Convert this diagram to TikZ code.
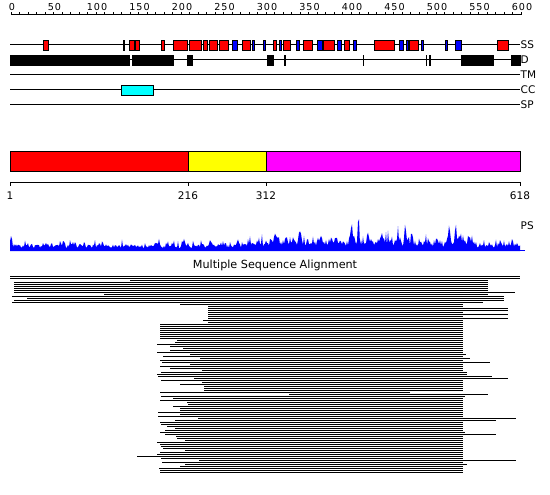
\documentclass[tikz,border=0pt]{standalone}
\usepackage{fontspec}
\setmainfont{DejaVu Sans}
\definecolor{ssred}{RGB}{255,0,0}
\definecolor{ssblue}{RGB}{0,0,255}
\definecolor{cccyan}{RGB}{0,255,255}
\definecolor{dyellow}{RGB}{255,255,0}
\definecolor{dmag}{RGB}{255,0,255}
\pgfmathdeclarefunction{pk}{4}{\pgfmathparse{#3*max(0,1-abs(#1-#2)/#4)}}
\begin{document}
\begin{tikzpicture}[x=1pt,y=-1pt,
  rulenum/.style={font=\fontsize{9.6}{10}\selectfont\addfontfeature{LetterSpace=10}, inner sep=0pt},
  tracklab/.style={font=\fontsize{10.5}{11}\selectfont, anchor=west, inner sep=0pt},
  domlab/.style={font=\fontsize{10.5}{11}\selectfont, inner sep=0pt},
  trackline/.style={line width=1pt},
  ssbox/.style={draw=black, line width=0.8pt},
  dbox/.style={fill=black},
  msa/.style={line width=1pt}]
\useasboundingbox (0,0) rectangle (550,495);
\fill[white] (0,0) rectangle (550,495);
% ruler
\draw[line width=1pt] (11,15) -- (521,15);
\foreach \k in {0,...,60} \draw[line width=0.8pt] ({11+8.5*\k},15) -- ({11+8.5*\k},12);
\foreach \k [evaluate=\k as \lab using int(50*\k)] in {0,...,12}
  \node[rulenum] (r\k) at ({12+42.5*\k},7) {\lab};
% tracks
\foreach \y/\t in {45/SS,60/D,75/TM,90/CC,105/SP}{
  \draw[trackline] (10,\y) -- (520,\y);
  \node[tracklab] (lab\t) at (520.5,\y) {\t};
}
% secondary structure
\foreach \a/\b/\c in {43.3/48.7/ssred,123.3/124.7/black,129.3/134.3/ssred,135/139.3/ssred,161.3/164.7/ssred,
  173.3/187.3/ssred,189.3/201.7/ssred,203.3/207.7/ssred,209.3/217.7/ssred,219.3/228.7/ssred,
  232.3/237.7/ssblue,241.7/250.7/ssred,252.3/254.7/ssblue,262.7/265.3/ssblue,273.3/276.7/ssred,
  279.3/282/ssblue,283.3/290.7/ssred,296.3/299.3/ssblue,303.3/312.3/ssred,316.7/322.3/ssblue,
  322.7/334.3/ssred,337/341.7/ssblue,344.3/349.7/ssred,353.3/356.3/ssblue,373.7/394.3/ssred,
  398.7/403.3/ssblue,406.3/409/ssblue,409.3/418.7/ssred,421.3/424/ssblue,445.3/448/ssblue,
  454.7/462/ssblue,496.7/508.3/ssred}
  \draw[ssbox, fill=\c] ({\a+0.4},40.7) rectangle ({\b-0.4},50.3);
% disorder
\foreach \a/\b in {10/130.3,132/173.7,187.3/192.7,267.3/274,284/285.7,363.3/364.3,426/427.3,
  429/430.7,461/493.7,511.3/521}
  \fill[dbox] (\a,55) rectangle (\b,65.7);
% coiled coil
\draw[ssbox, fill=cccyan] (121.4,85.7) rectangle (153.3,95.3);
% domain bar
\draw[line width=0.8pt, fill=ssred] (10,151) rectangle (188,171);
\draw[line width=0.8pt, fill=dyellow] (188,151) rectangle (266,171);
\draw[line width=0.8pt, fill=dmag] (266,151) rectangle (520,171);
\draw[line width=0.8pt] (10,182) -- (520,182);
\foreach \x/\l in {10/1,188/216,266/312,520/618}{
  \draw[line width=0.8pt] (\x,182) -- (\x,186.5);
  \node[domlab] (d\l) at (\x,196) {\l};
}
% PS profile
\pgfmathsetseed{4711}
\fill[ssblue] (10,251) -- plot[domain=10:520, samples=511, variable=\t]
  (\t,{251 - max(0.6, (3+3*rnd)*(1-0.6*(\t>428)*(\t<446))*(1-0.5*(\t>392)*(\t<397)) + 6*pow(rnd,4)
   + (\t>245)*(\t<475)*(1.5+9*pow(rnd,3))
   + (0.55+0.45*rnd)*( pk(\t,11,10,2)+pk(\t,159,6,1.5)+pk(\t,184,7,1.5)+pk(\t,210,9,2.5)+pk(\t,238,7,2)
   +pk(\t,278,8,2.5)+pk(\t,300,11,3)+pk(\t,321,13,2.5)+pk(\t,336,7,2)+pk(\t,352,15,3)+pk(\t,358.5,26,1.5)
   +pk(\t,368,7,2)+pk(\t,382,15,1.5)+pk(\t,398,11,2.5)+pk(\t,405,17,2)+pk(\t,412,11,2)+pk(\t,449,23,1.5)
   +pk(\t,456,17,2.5)+pk(\t,460,9,3)+pk(\t,501,7,2)+pk(\t,512,8,2)))}) -- (520,251) -- cycle;
\draw[ssblue, line width=1pt] (10,250.5) -- (525,250.5);
\node[tracklab] (labPS) at (520.5,226) {PS};
% MSA
\node[font=\fontsize{11.2}{12}\selectfont, inner sep=0pt] (msatitle) at (275,265.5) {Multiple Sequence Alignment};
\foreach \s/\e [count=\i from 0] in {10/520,10/520,130/488,14/488,14/488,14/488,14/488,14/488,14/515,104/488,
  12/504,27/504,14/504,12/483,180/463,208/463,208/508,208/508,208/463,208/508,
  208/463,208/508,203/463,208/463,160/463,160/463,160/463,160/463,160/463,160/463,
  160/463,160/463,177/463,175/463,157/463,170/463,183/463,170/463,157/463,190/466,
  163/463,200/470,160/463,162/490,190/463,160/463,170/463,202/463,161/467,157/467,
  158/492,194/508,161/463,202/463,180/463,204/463,204/463,204/463,160/410,289/488,
  161/465,173/463,160/463,187/463,188/463,173/463,180/463,180/463,158/463,180/463,
  158/463,198/516,175/496,160/463,161/463,167/463,175/463,165/463,160/465,165/496,
  176/463,177/463,185/463,157/463,160/463,161/463,163/463,185/463,160/463,157/463,
  137/463,161/463,199/516,162/463,185/467,180/463,159/463,160/463,160/463}
  \draw[msa] (\s,{276+2*\i}) -- (\e,{276+2*\i});
\end{tikzpicture}
\end{document}
